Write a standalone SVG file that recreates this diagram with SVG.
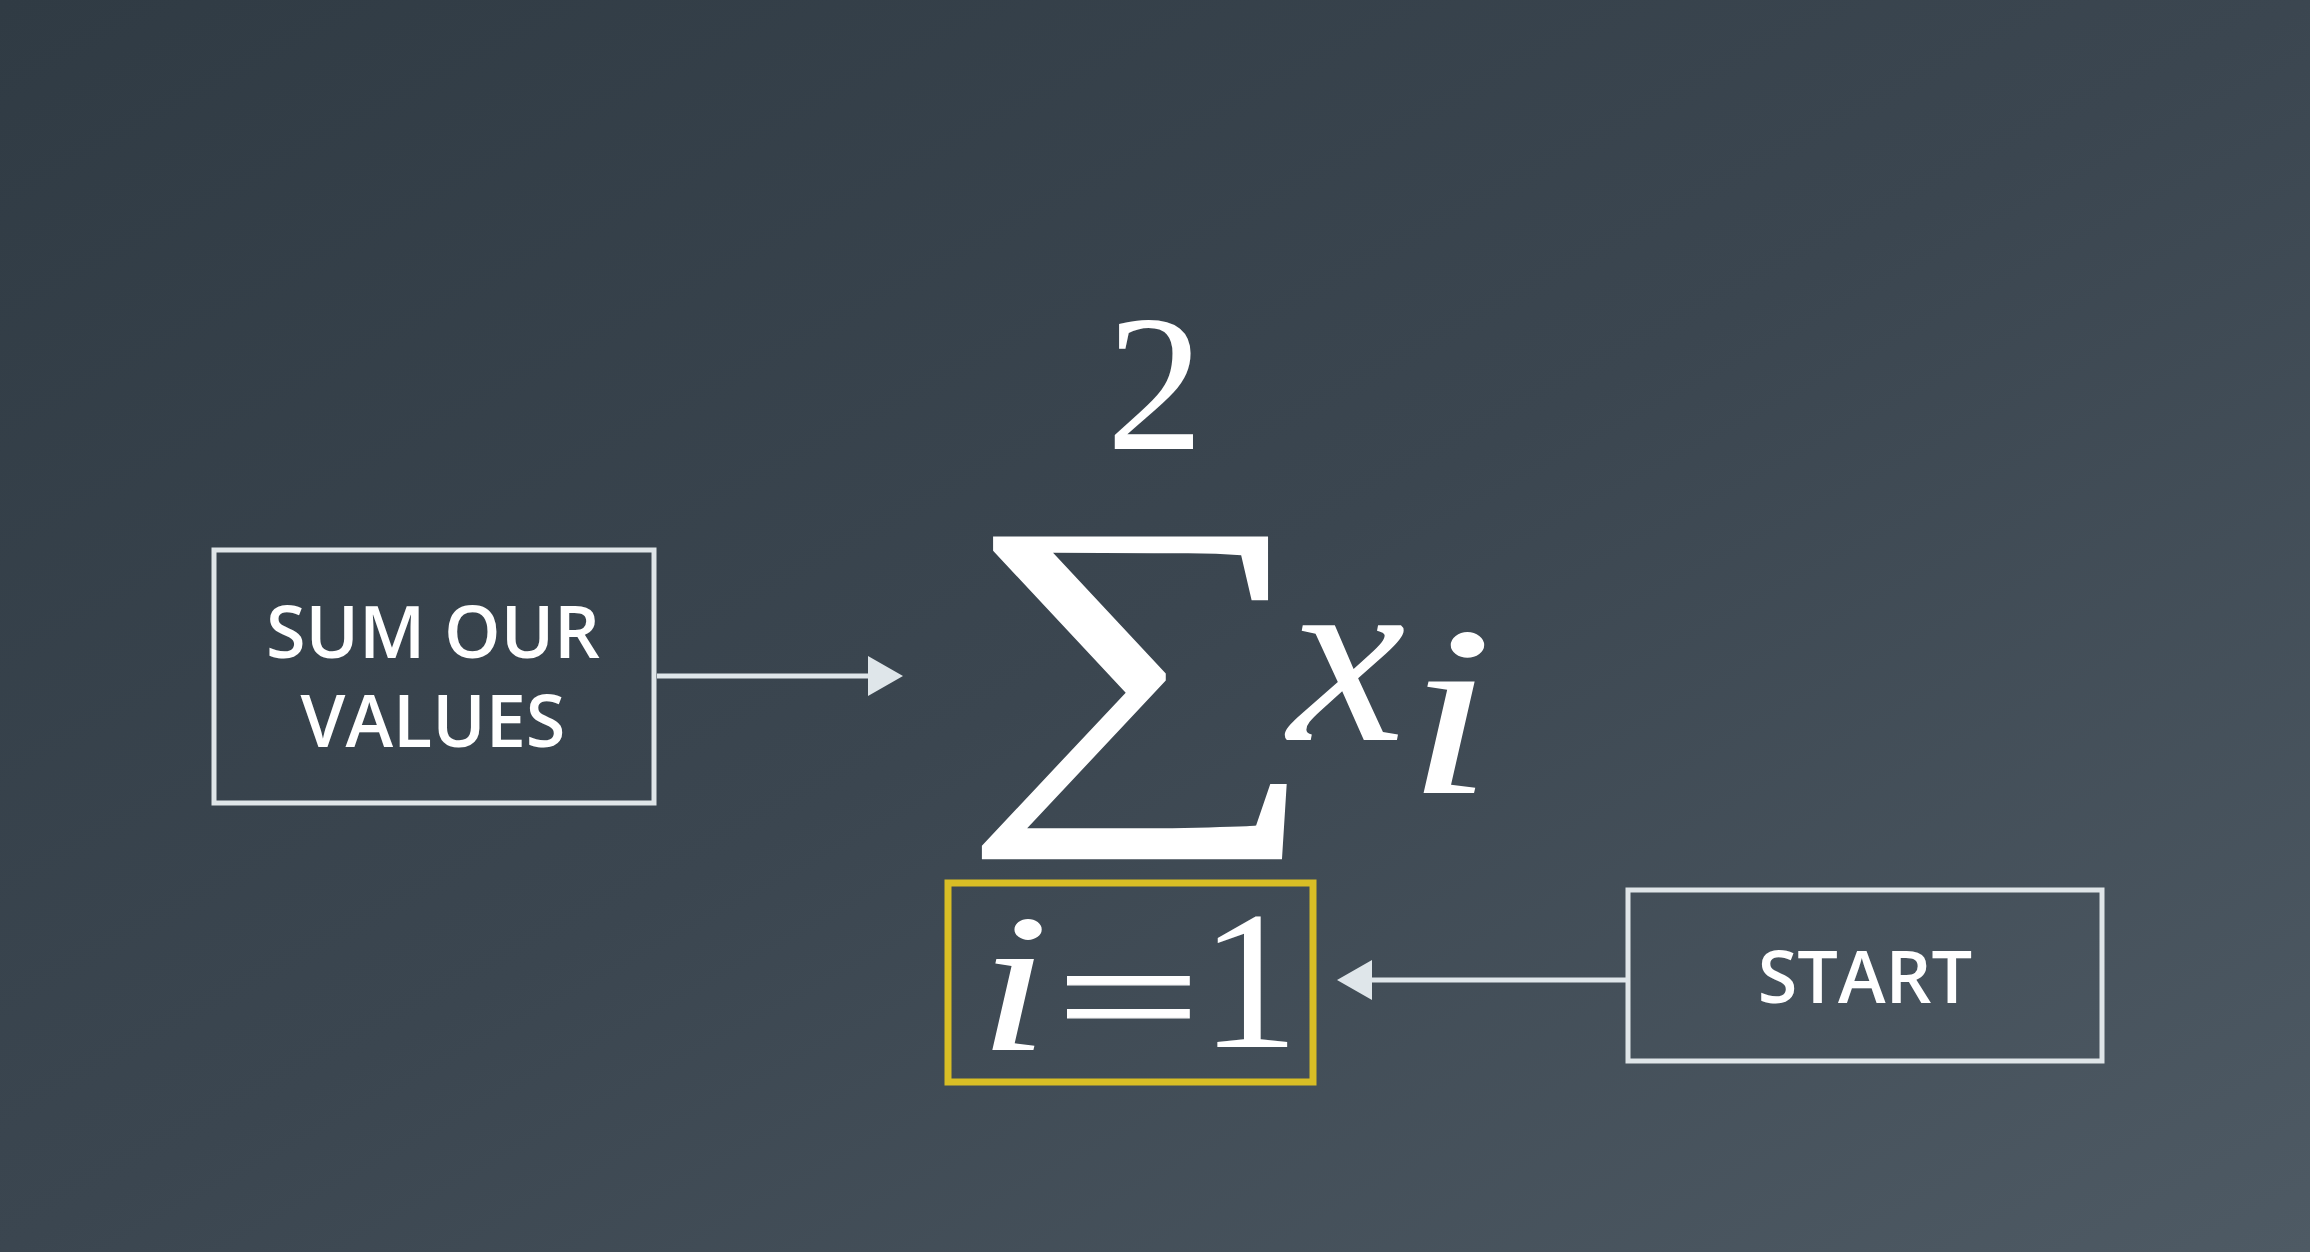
<svg xmlns="http://www.w3.org/2000/svg" width="2310" height="1252" viewBox="0 0 2310 1252">
<defs>
<linearGradient id="bg" x1="0" y1="0" x2="1" y2="1">
<stop offset="0" stop-color="#303b44"/>
<stop offset="0.5" stop-color="#3b4650"/>
<stop offset="1" stop-color="#4e5a64"/>
</linearGradient>
<style>
.box{fill:none;stroke:#dfe5e8;stroke-width:5}
.lbl{font-family:"Open Sans","Liberation Sans",sans-serif;font-weight:600;font-size:72px;fill:#ffffff;text-anchor:middle}
.math{font-family:"Liberation Serif","DejaVu Serif",serif;fill:#ffffff}
.it{font-style:italic}
.conn{stroke:#dfe6ea;stroke-width:5;fill:none}
.head{fill:#dfe6ea}
</style>
</defs>
<rect width="2310" height="1252" fill="url(#bg)"/>
<g id="sum-our-values">
<rect class="box" x="214" y="550" width="440" height="253"/>
<text class="lbl" x="433" y="658">SUM OUR</text>
<text class="lbl" x="433" y="747">VALUES</text>
</g>
<g id="formula">
<text class="math" x="1155" y="449" font-size="195" text-anchor="middle">2</text>
<text class="math" x="0" y="0" font-size="400" transform="translate(959 780) scale(1.274 0.93)">∑</text>
<text class="math it" x="0" y="0" font-size="250" transform="translate(1288 740) scale(1.06 1)">x</text>
<text class="math it" x="0" y="0" font-size="243" transform="translate(1406 793) scale(1.3 1)">i</text>
</g>
<g id="lower-limit">
<rect x="948" y="883" width="365" height="199" fill="none" stroke="#d9be25" stroke-width="7"/>
<text class="math it" x="0" y="0" font-size="198" transform="translate(978 1050) scale(1.3 1)">i</text>
<text class="math" x="0" y="0" font-size="165" stroke="#ffffff" stroke-width="1.2" transform="translate(1055 1052) scale(1.575 1)">=</text>
<text class="math" x="1200" y="1047" font-size="198">1</text>
</g>
<g id="start">
<rect class="box" x="1628" y="890" width="474" height="171"/>
<text class="lbl" x="1865" y="1003">START</text>
</g>
<g id="connectors">
<line class="conn" x1="657" y1="676" x2="868" y2="676"/>
<path class="head" d="M868,656 L903,676 L868,696 z"/>
<line class="conn" x1="1628" y1="980" x2="1372" y2="980"/>
<path class="head" d="M1372,960 L1337,980 L1372,1000 z"/>
</g>
</svg>
